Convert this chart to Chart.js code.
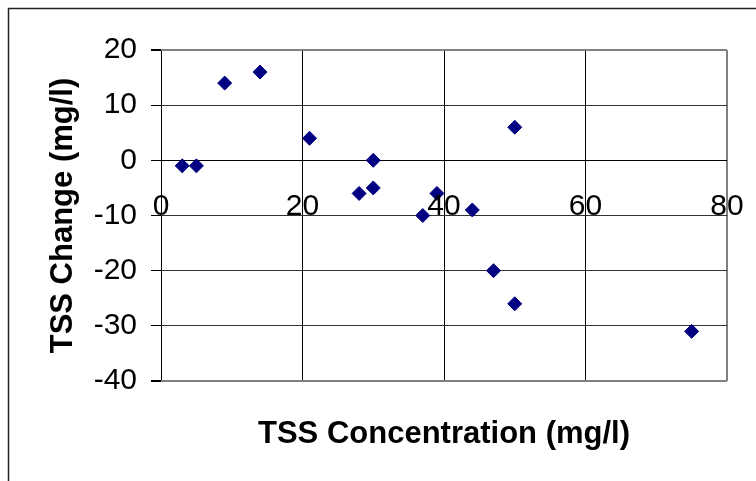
<!DOCTYPE html>
<html>
<head>
<meta charset="utf-8">
<script src="https://cdn.jsdelivr.net/npm/chart.js@4"></script>
<style>
  html, body { margin: 0; padding: 0; background: #fff; }
  canvas { display: block; }
</style>
</head>
<body>
<canvas id="tssChart" width="756" height="481"></canvas>
<script>
var tssConcentration = [3, 5, 9, 14, 21, 28, 30, 30, 37, 39, 44, 47, 50, 50, 75]
var tssChange = [-1, -1, 14, 16, 4, -6, 0, -5, -10, -6, -9, -20, 6, -26, -31]
var xTickLabels = [0, 20, 40, 60, 80]
var yMin = -40
var yMax = 20

var fontFamily = "'Liberation Sans', Arial, sans-serif"
var markerColour = "#000080"

var points = tssConcentration.map(function(x, i) {
  return { x: x, y: tssChange[i] }
})

// outer frame and x labels sitting under the zero line
var extras = {
  id: "extras",
  beforeDraw: function(chart) {
    var ctx = chart.ctx
    ctx.save()
    ctx.strokeStyle = "#222"
    ctx.lineWidth = 1.5
    ctx.beginPath()
    ctx.moveTo(8.5, chart.height)
    ctx.lineTo(8.5, 8.5)
    ctx.lineTo(chart.width, 8.5)
    ctx.stroke()
    ctx.restore()
  },
  afterDatasetsDraw: function(chart) {
    var ctx = chart.ctx
    var xScale = chart.scales.x
    var yScale = chart.scales.y
    var y0 = yScale.getPixelForValue(0)
    ctx.save()
    ctx.fillStyle = "#000"
    ctx.font = "30px " + fontFamily
    ctx.textAlign = "center"
    ctx.textBaseline = "alphabetic"
    xTickLabels.forEach(function(v) {
      ctx.fillText(String(v), xScale.getPixelForValue(v), y0 + 55)
    })
    ctx.restore()
  }
}

new Chart(document.getElementById("tssChart"), {
  type: "scatter",
  data: {
    datasets: [{
      label: "TSS Change",
      data: points,
      pointStyle: "rectRot",
      pointRadius: 7,
      pointHoverRadius: 7,
      backgroundColor: markerColour,
      borderColor: markerColour,
      borderWidth: 1
    }]
  },
  options: {
    responsive: false,
    devicePixelRatio: 1,
    animation: false,
    layout: {
      padding: { left: 41, top: 50, right: 29, bottom: 24 }
    },
    scales: {
      x: {
        type: "linear",
        min: 0,
        max: 80,
        afterFit: function(scale) { scale.height = 76 },
        border: { display: false },
        grid: {
          drawTicks: false,
          color: function(context) {
            var v = context.tick.value
            if (v === 80) return "#808080"
            return "#000"
          },
          lineWidth: function(context) {
            return context.tick.value === 80 ? 2 : 1
          }
        },
        ticks: { display: false, stepSize: 20 },
        title: {
          display: true,
          text: "TSS Concentration (mg/l)",
          color: "#000",
          font: { family: fontFamily, size: 31, weight: "bold" }
        }
      },
      y: {
        type: "linear",
        min: yMin,
        max: yMax,
        afterFit: function(scale) { scale.width = 120 },
        border: { display: false },
        grid: {
          tickLength: 10,
          tickColor: "#000",
          color: function(context) {
            var v = context.tick.value
            if (v === yMax || v === yMin) return "#808080"
            if (v === 0) return "#000"
            return "#333"
          },
          lineWidth: function(context) {
            var v = context.tick.value
            return (v === yMax || v === yMin) ? 2 : 1
          }
        },
        ticks: {
          stepSize: 10,
          padding: 14,
          color: "#000",
          font: { family: fontFamily, size: 30 }
        },
        title: {
          display: true,
          text: "TSS Change (mg/l)",
          color: "#000",
          font: { family: fontFamily, size: 31, weight: "bold" }
        }
      }
    },
    plugins: {
      legend: { display: false },
      tooltip: { enabled: false }
    }
  },
  plugins: [extras]
})
</script>
</body>
</html>
